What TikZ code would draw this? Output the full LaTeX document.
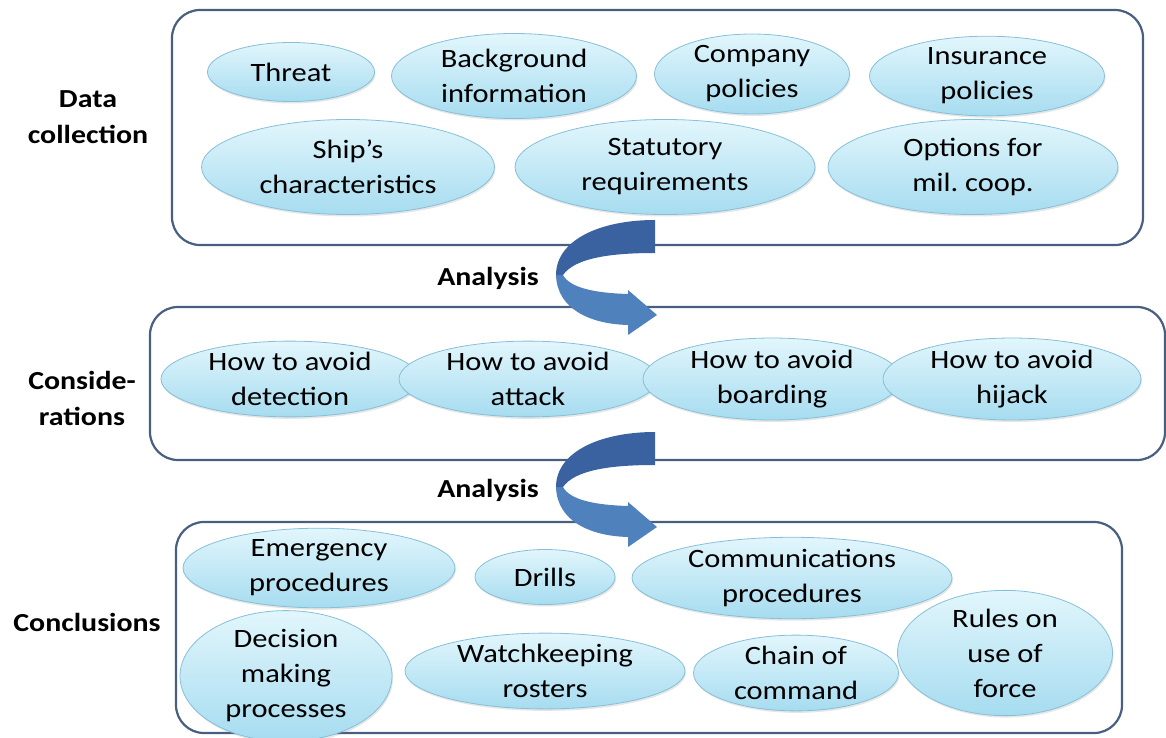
\documentclass[tikz,border=0pt]{standalone}
\usepackage{fontspec}
\setmainfont{Carlito}[FakeStretch=1.15]
\usepackage{tikz}
\usetikzlibrary{shapes.geometric, shadows}
\definecolor{panelblue}{HTML}{485F80}
\definecolor{bubbletop}{HTML}{E2F6FC}
\definecolor{bubblebot}{HTML}{A6DCF0}
\definecolor{bubbleline}{HTML}{86C0D8}
\definecolor{arrowdark}{HTML}{3A62A0}
\definecolor{arrowlight}{HTML}{4F81BD}
\tikzset{x=1pt, y=-1pt, % pixel-like units, y grows downwards
panel/.style={ % rounded frame round each stage
draw=panelblue, line width=2.2pt, rounded corners=28pt},
bubble/.style={ % light blue items
ellipse, draw=bubbleline, line width=0.8pt,
top color=bubbletop, bottom color=bubblebot,
drop shadow={opacity=0.2, shadow xshift=1pt, shadow yshift=-2pt},
inner sep=0pt, align=center,
font=\fontsize{26.5}{35}\selectfont},
stage/.style={ % bold labels on the left
align=center, font=\fontsize{26}{36}\selectfont\bfseries}}

\begin{document}
\begin{tikzpicture}
    \useasboundingbox (0,0) rectangle (1166,738);

    % frames
    \draw[panel] (172,10) rectangle (1143,245);
    \draw[panel] (150,307) rectangle (1165,460);
    \draw[panel] (176,522) rectangle (1122,733);

    % stage labels
    \node[stage] (collect) at (88,117) {Data\\collection};
    \node[stage] (consider) at (82,398) {Conside-\\rations};
    \node[stage] (conclude) at (87,622) {Conclusions};
    \node[stage] (analysis1) at (488,278) {Analysis};
    \node[stage] (analysis2) at (488,490) {Analysis};

    % U-turn arrows
    \foreach \dy in {0,212} {
    \begin{scope}[shift={(0,\dy)}]
    \fill[arrowlight] (556,275) .. controls (557,309) and (590,324) .. (628,325)
        -- (628,335) -- (657,315) -- (628,290) -- (628,294)
        .. controls (595,293) and (570,288) .. (563,275) -- cycle;
    \fill[arrowdark] (655,220) .. controls (600,220) and (556,240) .. (556,275)
        -- (563,275) .. controls (575,258) and (610,253) .. (655,253) -- cycle;
    \end{scope}
    }

    % data collection
    \node[bubble, minimum width=167, minimum height=59] (threat) at (291,72) {Threat};
    \node[bubble, minimum width=245, minimum height=85] (backgr) at (514,76) {Background\\information};
    \node[bubble, minimum width=195, minimum height=80] (company) at (752,74) {Company\\policies};
    \node[bubble, minimum width=235, minimum height=72] (insur) at (987,76) {Insurance\\policies};
    \node[bubble, minimum width=293, minimum height=95] (ship) at (348,167) {Ship’s\\characteristics};
    \node[bubble, minimum width=300, minimum height=95] (statut) at (665,167) {Statutory\\requirements};
    \node[bubble, minimum width=290, minimum height=95] (milcoop) at (973,167) {Options for\\mil.\ coop.};

    % considerations
    \node[bubble, minimum width=258, minimum height=72] (detect) at (290,379) {How to avoid\\detection};
    \node[bubble, minimum width=258, minimum height=72] (attack) at (528,379) {How to avoid\\attack};
    \node[bubble, minimum width=258, minimum height=72] (board) at (772,379) {How to avoid\\boarding};
    \node[bubble, minimum width=258, minimum height=72] (hijack) at (1012,379) {How to avoid\\hijack};

    % conclusions
    \node[bubble, minimum width=272, minimum height=73] (emerg) at (319,568) {Emergency\\procedures};
    \node[bubble, minimum width=140, minimum height=55] (drills) at (545,577) {Drills};
    \node[bubble, minimum width=320, minimum height=80] (comms) at (792,578) {Communications\\procedures};
    \node[bubble, minimum width=212, minimum height=115] (decide) at (286,676) {Decision\\making\\processes};
    \node[bubble, minimum width=280, minimum height=72] (watch) at (545,671) {Watchkeeping\\rosters};
    \node[bubble, minimum width=205, minimum height=70] (chain) at (796,673) {Chain of\\command};
    \node[bubble, minimum width=215, minimum height=107] (force) at (1005,653) {Rules on\\use of\\force};

\end{tikzpicture}
\end{document}
